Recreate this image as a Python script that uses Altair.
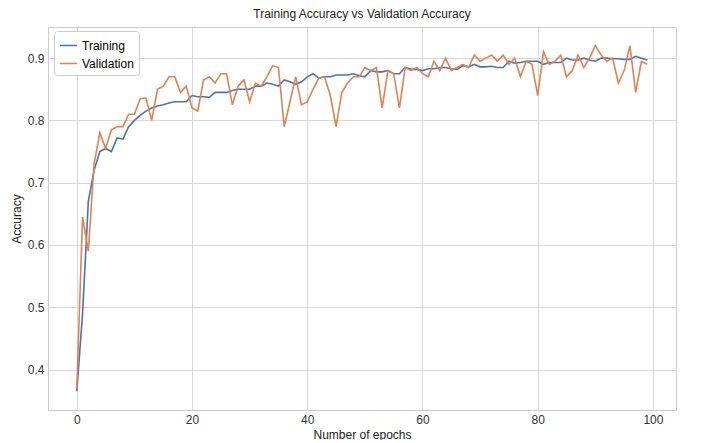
import altair as alt
import pandas as pd

training = [0.365, 0.49, 0.67, 0.72, 0.75, 0.755, 0.75, 0.772, 0.77, 0.79, 0.80, 0.808, 0.815, 0.82, 0.823,
            0.825, 0.828, 0.83, 0.83, 0.83, 0.84, 0.838, 0.838, 0.837, 0.845, 0.845, 0.845, 0.848, 0.85, 0.85,
            0.85, 0.855, 0.855, 0.86, 0.858, 0.855, 0.865, 0.862, 0.858, 0.862, 0.87, 0.875, 0.868, 0.87, 0.87,
            0.873, 0.873, 0.873, 0.875, 0.872, 0.87, 0.88, 0.878, 0.878, 0.88, 0.875, 0.875, 0.885, 0.882, 0.882,
            0.88, 0.883, 0.883, 0.885, 0.885, 0.883, 0.882, 0.888, 0.886, 0.89, 0.886, 0.886, 0.887, 0.885, 0.885,
            0.895, 0.892, 0.893, 0.895, 0.895, 0.895, 0.89, 0.893, 0.893, 0.893, 0.9, 0.897, 0.897, 0.9, 0.897,
            0.895, 0.9, 0.9, 0.899, 0.899, 0.898, 0.898, 0.903, 0.9, 0.897]
validation = [0.37, 0.645, 0.59, 0.73, 0.78, 0.755, 0.785, 0.79, 0.79, 0.81, 0.81, 0.835, 0.836, 0.8, 0.85,
              0.855, 0.87, 0.87, 0.845, 0.855, 0.82, 0.815, 0.865, 0.87, 0.86, 0.875, 0.875, 0.825, 0.855, 0.865,
              0.83, 0.86, 0.855, 0.87, 0.888, 0.885, 0.79, 0.83, 0.87, 0.825, 0.83, 0.85, 0.868, 0.87, 0.84,
              0.79, 0.845, 0.86, 0.87, 0.87, 0.885, 0.88, 0.885, 0.82, 0.88, 0.875, 0.82, 0.885, 0.88, 0.885,
              0.875, 0.87, 0.895, 0.88, 0.9, 0.88, 0.885, 0.89, 0.885, 0.905, 0.895, 0.9, 0.905, 0.895, 0.905,
              0.89, 0.9, 0.87, 0.895, 0.89, 0.84, 0.91, 0.89, 0.895, 0.905, 0.87, 0.88, 0.905, 0.885, 0.9,
              0.92, 0.905, 0.895, 0.9, 0.86, 0.88, 0.92, 0.845, 0.895, 0.89]

epochs = list(range(len(training)))
df = pd.concat([
    pd.DataFrame({"epoch": epochs, "acc": training, "series": "Training"}),
    pd.DataFrame({"epoch": epochs, "acc": validation, "series": "Validation"}),
])

FONT = "Liberation Sans"

chart = alt.Chart(df).mark_line(strokeWidth=1.6).encode(
    x=alt.X("epoch:Q", title="Number of epochs", scale=alt.Scale(domain=[-5, 104], nice=False),
            axis=alt.Axis(values=[0, 20, 40, 60, 80, 100])),
    y=alt.Y("acc:Q", title="Accuracy", scale=alt.Scale(domain=[0.335, 0.95], nice=False, zero=False),
            axis=alt.Axis(values=[0.4, 0.5, 0.6, 0.7, 0.8, 0.9], format=".1f")),
    color=alt.Color("series:N", title=None,
                    scale=alt.Scale(domain=["Training", "Validation"], range=["#4c72b0", "#dd8452"]),
                    legend=alt.Legend(orient="none", legendX=6, legendY=4, fillColor="white",
                                      strokeColor="#cccccc", padding=5, cornerRadius=3,
                                      symbolType="stroke", labelFontSize=12, symbolSize=300)),
).properties(
    width=628, height=383,
    title=alt.Title("Training Accuracy vs Validation Accuracy", fontSize=12, fontWeight="normal", offset=6),
).configure_axis(
    gridColor="#d8d8d8", domain=False, ticks=False, labelFontSize=12, titleFontSize=12,
    titleFontWeight="normal", labelColor="#333", titleColor="#222", labelFont=FONT,
    titleFont=FONT, labelPadding=4, titlePadding=4,
).configure_view(stroke="#cccccc").configure_title(font=FONT, color="#222").configure_legend(
    labelFont=FONT).properties(padding={"left": 2, "top": 0, "right": 2, "bottom": 0})

chart.save("out.html", embed_options={"renderer": "svg", "actions": False})
